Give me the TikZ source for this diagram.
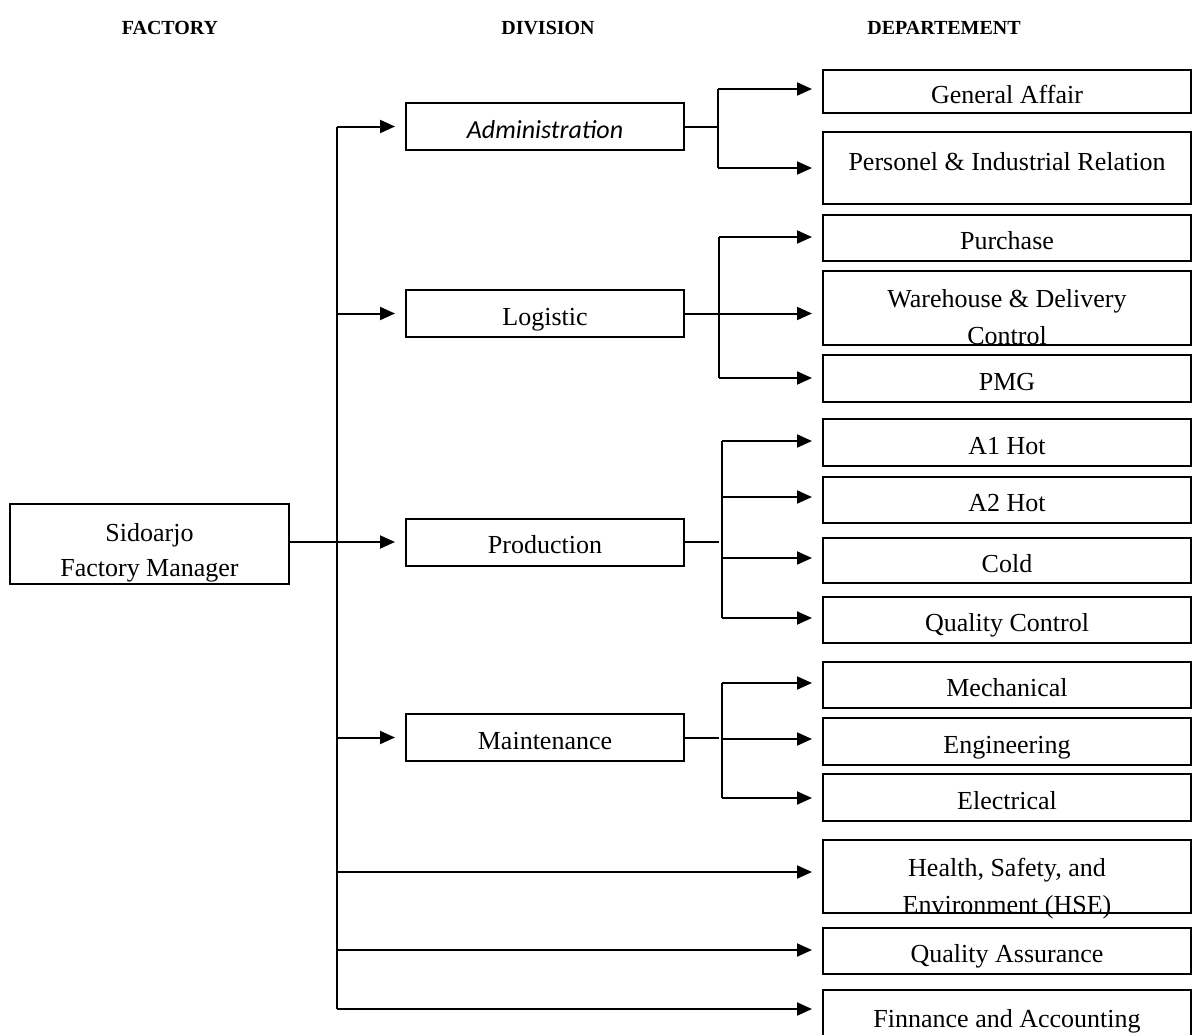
\documentclass[tikz,border=0pt]{standalone}
\usepackage{fontspec}
\setmainfont{Liberation Serif}
\newfontfamily\carlito{Carlito}
\usetikzlibrary{arrows.meta, calc, positioning}

\begin{document}
\begin{tikzpicture}[x=0.5pt, y=-0.5pt, >={Triangle[length=7.5pt,width=6.5pt]},
    box/.style={draw, line width=1pt, inner sep=0pt, font=\fontsize{13}{18.5}\selectfont},
    txt/.style={inner sep=0pt, align=center, font=\fontsize{13}{18.5}\selectfont},
    low/.style={text height=11.7pt, text depth=0pt},
    divbox/.style={box, low, minimum width=139pt, minimum height=23.5pt},
    deptbox/.style={box, low, minimum width=184pt},
    head/.style={font=\bfseries\fontsize{10}{12}\selectfont},
    link/.style={line width=1pt},
    arr/.style={link, ->, shorten >=5pt}]

    \useasboundingbox (0,0) rectangle (1194,1034);

    % =================================================================
    % 1. JUDUL KOLOM
    % =================================================================
    \node[head] (hFactory) at (170,28) {FACTORY};
    \node[head] (hDivision) at (548,28) {DIVISION};
    \node[head] (hDept) at (944,28) {DEPARTEMENT};

    % =================================================================
    % 2. FACTORY DAN DIVISION
    % =================================================================
    \node[box, minimum width=139.5pt, minimum height=40pt] (fm) at (149.5,544) {};
    \node[txt, font=\fontsize{13}{17.5}\selectfont] (fmTxt) at (149.5,553)
        {Sidoarjo\\Factory Manager};

    \node[divbox, font=\carlito\itshape\fontsize{13}{16}\selectfont]
        (adm) at (545,126.5) {Administration};
    \node[divbox] (log) at (545,313.5) {Logistic};
    \node[divbox] (prod) at (545,542) {Production};
    \node[divbox] (maint) at (545,737.5) {Maintenance};

    % =================================================================
    % 3. DEPARTEMENT
    % =================================================================
    \node[deptbox, minimum height=21.5pt] (ga) at (1007,91.5) {General Affair};
    \node[deptbox, minimum height=36pt] (pir) at (1007,168) {};
    \node[txt] (pirTxt) at (1007,162) {Personel \& Industrial Relation};
    \node[deptbox, minimum height=23pt] (pur) at (1007,238) {Purchase};
    \node[deptbox, minimum height=37pt] (wh) at (1007,308) {};
    \node[txt] (whTxt) at (1007,317) {Warehouse \& Delivery\\Control};
    \node[deptbox, minimum height=23.5pt] (pmg) at (1007,378.5) {PMG};

    \node[deptbox, minimum height=23.5pt] (a1) at (1007,442.5) {A1 Hot};
    \node[deptbox, minimum height=23pt] (a2) at (1007,500) {A2 Hot};
    \node[deptbox, minimum height=22.5pt] (cold) at (1007,560.5) {Cold};
    \node[deptbox, minimum height=23pt] (qc) at (1007,620) {Quality Control};

    \node[deptbox, minimum height=23pt] (mech) at (1007,685) {Mechanical};
    \node[deptbox, minimum height=23.5pt] (eng) at (1007,741.5) {Engineering};
    \node[deptbox, minimum height=23.5pt] (elec) at (1007,797.5) {Electrical};

    \node[deptbox, minimum height=36.5pt] (hse) at (1007,876.5) {};
    \node[txt] (hseTxt) at (1007,889) {Health, Safety, and\\Environment (HSE)};
    \node[deptbox, minimum height=23pt] (qa) at (1007,951) {Quality Assurance};
    \node[deptbox, minimum height=30pt] (fin) at (1007,1020) {};
    \node[txt] (finTxt) at (1007,1021) {Finnance and Accounting};

    % =================================================================
    % 4. GARIS PENGHUBUNG
    % =================================================================
    % Batang utama dari Factory Manager
    \coordinate (trTop) at (337,126.5);
    \coordinate (trBot) at (337,1009);
    \draw[link] (trTop) -- (trBot);
    \draw[arr] (fm.east |- prod.west) -- (prod.west);
    \foreach \n in {adm, log, maint}
        \draw[arr] (trTop |- \n.west) -- (\n.west);
    \foreach \y/\n in {872/hse, 950/qa, 1009/fin} {
        \coordinate (tr) at (337,\y);
        \draw[arr] (tr) -- (tr -| \n.west);
    }

    % Administration
    \coordinate (admB1) at (718,89);
    \coordinate (admB2) at (718,168);
    \draw[link] (adm.east) -- (adm.east -| admB1);
    \draw[link] (admB1) -- (admB2);
    \draw[arr] (admB1) -- (admB1 -| ga.west);
    \draw[arr] (admB2) -- (admB2 -| pir.west);

    % Logistic
    \coordinate (logB1) at (719,237);
    \coordinate (logB2) at (719,378);
    \draw[link] (logB1) -- (logB2);
    \draw[arr] (log.east) -- (log.east -| wh.west);
    \draw[arr] (logB1) -- (logB1 -| pur.west);
    \draw[arr] (logB2) -- (logB2 -| pmg.west);

    % Production
    \draw[link] (722,441) -- (722,618);
    \draw[link] (prod.east) -- (prod.east -| 719,0);
    \foreach \y/\n in {441/a1, 497/a2, 558/cold, 618/qc} {
        \coordinate (pb) at (722,\y);
        \draw[arr] (pb) -- (pb -| \n.west);
    }

    % Maintenance
    \draw[link] (722,683) -- (722,798);
    \draw[link] (maint.east) -- (maint.east -| 719,0);
    \foreach \y/\n in {683/mech, 739/eng, 798/elec} {
        \coordinate (mb) at (722,\y);
        \draw[arr] (mb) -- (mb -| \n.west);
    }

\end{tikzpicture}
\end{document}
